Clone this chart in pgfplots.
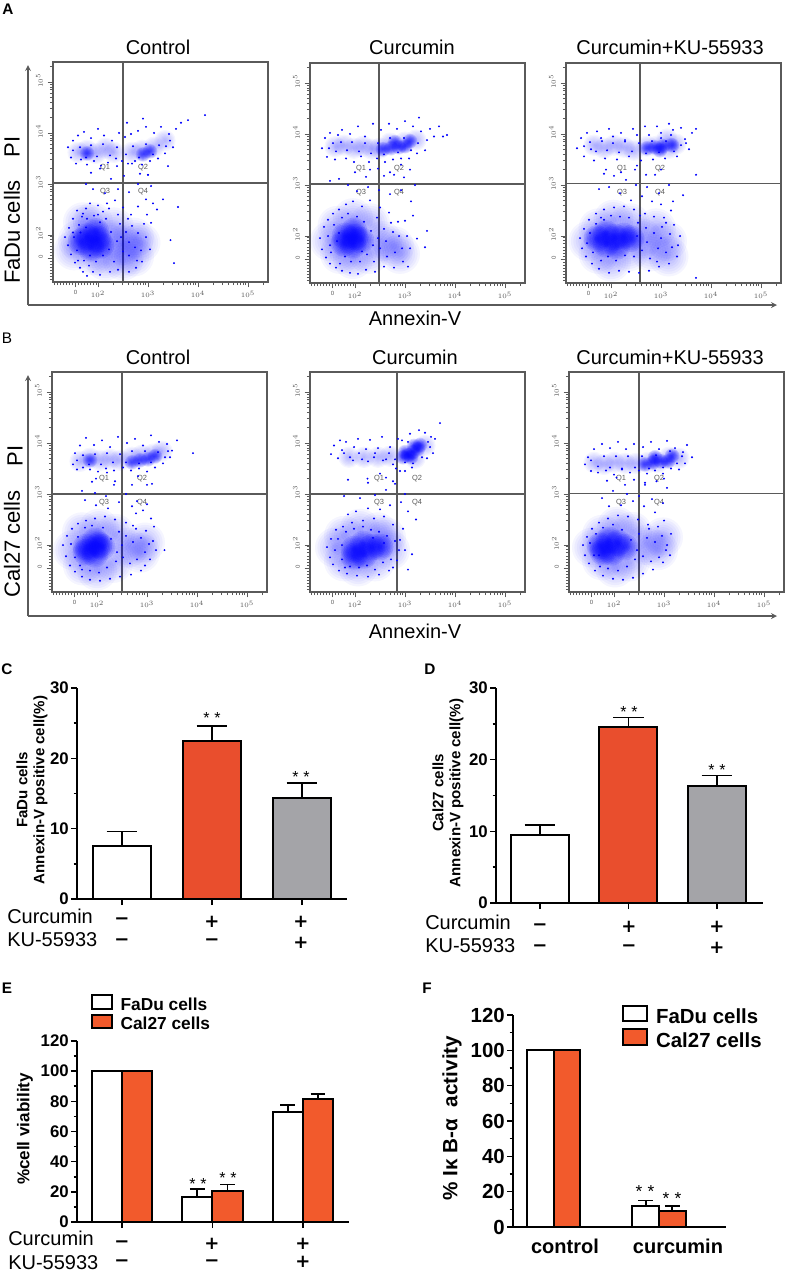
\documentclass[border=0pt]{standalone}
\usepackage{pgfplots}
\pgfplotsset{compat=1.18}
\usepackage{fontspec}
\setmainfont{Liberation Sans}
\newfontfamily\signfont{DejaVu Sans}
\definecolor{barred}{RGB}{233,78,45}
\definecolor{barorange}{RGB}{242,90,44}
\definecolor{bargray}{RGB}{164,164,168}
\definecolor{boxgray}{RGB}{90,90,90}
\newcommand{\fs}[1]{\fontsize{#1}{#1}\selectfont}
\tikzset{qlab/.style={font=\fs{5.6},text=boxgray,inner sep=0pt}}
% soft-edged mark for the dense parts of the flow clouds
\pgfdeclareplotmark{soft}{%
  \pgfpathcircle{\pgfpointorigin}{\pgfplotmarksize}\pgfusepathqfill
  \pgfpathcircle{\pgfpointorigin}{.88\pgfplotmarksize}\pgfusepathqfill
  \pgfpathcircle{\pgfpointorigin}{.76\pgfplotmarksize}\pgfusepathqfill
  \pgfpathcircle{\pgfpointorigin}{.64\pgfplotmarksize}\pgfusepathqfill
  \pgfpathcircle{\pgfpointorigin}{.52\pgfplotmarksize}\pgfusepathqfill
  \pgfpathcircle{\pgfpointorigin}{.40\pgfplotmarksize}\pgfusepathqfill
  \pgfpathcircle{\pgfpointorigin}{.28\pgfplotmarksize}\pgfusepathqfill
  \pgfpathcircle{\pgfpointorigin}{.16\pgfplotmarksize}\pgfusepathqfill}
\pgfplotsset{
  flow/.style={scale only axis,width=161.25pt,height=165pt,anchor=north west,
    xmin=110,xmax=540,ymin=108,ymax=539,clip=true,
    axis line style={boxgray,line width=.8pt},tick align=outside,tick pos=left,
    every tick/.style={boxgray,line width=.35pt},
    major tick length=4pt,minor tick length=2.4pt,
    xtick={155,200,300,400,500},xticklabels={0,$10^2$,$10^3$,$10^4$,$10^5$},
    ytick={155,200,300,400,500},yticklabels={0,$10^2$,$10^3$,$10^4$,$10^5$},
    minor xtick={113,119,...,197,230,248,260,270,278,285,290,295,330,348,360,370,378,385,390,395,430,448,460,470,478,485,490,495,530},
    minor ytick={113,119,...,197,230,248,260,270,278,285,290,295,330,348,360,370,378,385,390,395,430,448,460,470,478,485,490,495,530},
    ticklabel style={font=\fs{4.5},text=boxgray},
    yticklabel style={rotate=90,anchor=south},
    xticklabel style={yshift=1pt},yticklabel style={xshift=1pt}},
  quad/.style={boxgray,line width=.8pt,forget plot},
  cell/.style={blue,only marks,mark=*,mark size=.5pt,mark options={draw=none,fill=blue},forget plot},
  halo/.style={blue,only marks,mark=soft,mark size=15pt,mark options={draw=none,fill=blue,fill opacity=.04},forget plot},
  core/.style={blue,only marks,mark=soft,mark size=10pt,mark options={draw=none,fill=blue,fill opacity=.13},forget plot},
  band/.style={blue,only marks,mark=soft,mark size=8pt,mark options={draw=none,fill=blue,fill opacity=.04},forget plot},
  bandc/.style={blue,only marks,mark=soft,mark size=5.5pt,mark options={draw=none,fill=blue,fill opacity=.13},forget plot},
  barax/.style={scale only axis,anchor=north west,ybar,ymin=0,
    axis x line*=bottom,axis y line*=left,
    x axis line style={-,line width=1.5pt},y axis line style={-,line width=1.5pt},
    tick align=outside,major tick length=4.5pt,minor tick length=2.6pt,
    every tick/.style={black,line width=1.2pt},
    /pgf/number format/assume math mode=true,
    xticklabels={},ticklabel style={font=\bfseries\fs{12.6}},
    yticklabel style={inner sep=1.5pt}},
  errs/.style={error bars/.cd,y dir=plus,y explicit,
    error bar style={line width=1.3pt,black},
    error mark options={rotate=90,mark size=#1,line width=1.3pt,black}},
  bx/.style={draw=black,line width=1.5pt,fill=#1},
  leg/.style={legend cell align=left,
    legend image code/.code={\path[draw=none,fill=none] (#1*1.5pt,0) -- (0,0);\draw[##1,line width=1.5pt] (0,-#1*.2pt) rectangle (#1*1.18pt,#1*.57pt);}},
}
% one flow panel: left, top (px), gate x, gate y, points
\newcommand{\flow}[5]{%
\begin{axis}[flow,at={(#1*.75pt,-#2*.75pt)}]
#5
\addplot[quad] coordinates {(#3,108) (#3,539)};
\addplot[quad] coordinates {(110,#4) (540,#4)};
\node[qlab,xshift=-13.5pt,yshift=11.2pt] at (axis cs:#3,#4) {Q1};
\node[qlab,xshift=15pt,yshift=11.2pt] at (axis cs:#3,#4) {Q2};
\node[qlab,xshift=-13.5pt,yshift=-6.7pt] at (axis cs:#3,#4) {Q3};
\node[qlab,xshift=15pt,yshift=-6.7pt] at (axis cs:#3,#4) {Q4};
\end{axis}}
\begin{document}
\begin{tikzpicture}
\useasboundingbox (0,0) rectangle (787*.75pt,-1272*.75pt);

% A, control
\flow{53}{62}{250}{302}{
\addplot[halo] coordinates {(160,190)(190,160)(190,225)(225,190)(232,215)(250,180)(272,195)(285,185)(152,170)(215,150)(250,150)(170,225)(272,158)};
\addplot[core] coordinates {(178,197)(196,207)(206,180)(186,174)(166,187)(200,192)};
\addplot[band] coordinates {(160,362)(178,366)(196,360)(215,370)(232,362)(268,362)(288,366)(312,372)(334,385)};
\addplot[bandc] coordinates {(178,360)(290,358)(304,364)};
\addplot[cell] coordinates {(134,196)(140,180)(142,214)(146,162)(150,232)(152,196)(154,146)(158,248)(162,220)(164,136)(168,236)(170,128)(176,252)(178,120)(182,140)(184,262)(190,128)(200,258)(204,122)(210,246)(218,262)(224,128)(234,268)(240,132)(250,254)(262,128)(266,240)(276,136)(280,256)(288,148)(298,240)(304,172)(306,224)(240,290)(262,284)(280,300)(296,270)(310,262)(214,282)(190,290)(176,300)(226,310)(252,316)(284,320)(306,296)(318,250)(330,270)(360,255)(352,145)(345,190)(204,330)(186,322)(238,335)(300,318)(268,340)
(140,372)(146,352)(150,385)(156,340)(160,395)(166,348)(172,402)(178,338)(186,390)(192,345)(200,408)(206,336)(212,395)(220,342)(228,385)(236,350)(242,400)(248,345)(254,392)(260,340)(266,398)(274,345)(280,404)(288,338)(296,412)(304,345)(312,400)(320,350)(326,412)(334,360)(342,398)(350,372)(356,408)(366,420)(380,425)(414,435)(340,335)(300,318)(258,420)(290,428)
(150,205)(158,170)(165,205)(172,150)(176,215)(184,160)(192,238)(196,148)(204,225)(210,160)(216,232)(222,172)(226,206)(232,148)(238,188)(244,222)(250,168)(256,206)(262,160)(268,218)(274,176)(280,204)(286,170)(292,222)(278,150)(260,232)(240,240)(222,252)(200,240)(178,232)(160,150)(170,242)(296,196)(262,186)(246,196)
(150,366)(164,372)(176,352)(186,376)(198,354)(210,378)(224,356)(238,372)(256,358)(270,374)(282,352)(296,378)(310,358)(322,376)(336,374)(344,385)};
}
% A, curcumin
\flow{310}{63}{248}{302}{
\addplot[halo] coordinates {(150,190)(165,220)(170,165)(196,155)(196,235)(228,165)(230,225)(255,190)(278,180)(290,165)};
\addplot[core] coordinates {(180,200)(198,210)(212,192)(196,182)(178,186)(200,198)};
\addplot[band] coordinates {(160,375)(178,378)(198,372)(216,376)(234,370)(250,372)(270,382)(300,384)(322,388)};
\addplot[bandc] coordinates {(256,370)(272,372)(288,374)(300,376)(280,384)(310,386)};
\addplot[cell] coordinates {(130,196)(134,174)(138,218)(142,158)(146,232)(150,146)(156,244)(162,138)(168,252)(174,132)(182,262)(190,128)(196,268)(206,126)(214,258)(222,134)(230,270)(240,130)(250,256)(258,140)(268,246)(278,138)(286,228)(296,150)(304,200)(310,176)(300,230)(316,240)(324,195)(312,268)(292,290)(270,282)(248,290)(226,296)(204,288)(186,300)(168,312)(150,308)(222,316)(258,318)(278,320)(298,315)(246,332)(320,300)(340,178)(344,210)(306,140)
(134,372)(140,392)(144,355)(150,402)(156,382)(160,350)(166,398)(174,408)(182,352)(190,400)(198,345)(206,415)(212,356)(220,395)(228,345)(236,420)(244,352)(252,408)(260,345)(268,420)(276,350)(284,410)(292,352)(300,425)(308,352)(316,415)(324,362)(332,405)(340,368)(350,410)(358,395)(368,415)(376,395)(384,398)(328,432)(292,340)(230,330)(270,325)(200,325)(310,330)
(146,200)(152,168)(158,222)(164,190)(170,146)(174,236)(180,160)(186,244)(192,150)(204,238)(210,150)(218,228)(224,164)(232,210)(238,150)(244,236)(250,176)(258,214)(264,160)(272,226)(280,168)(288,200)(276,208)(294,176)(262,190)(246,196)(236,182)(214,170)(150,182)(168,206)
(148,372)(162,366)(172,384)(184,368)(194,384)(208,366)(220,382)(232,362)(246,382)(258,360)(270,392)(286,364)(298,392)(312,368)(326,382)(344,388)};
}
% A, curcumin + KU
\flow{566}{63}{258}{303}{
\addplot[halo] coordinates {(155,190)(175,215)(175,165)(200,150)(205,232)(235,170)(238,225)(262,195)(280,170)(290,215)(312,190)(315,160)};
\addplot[core] coordinates {(172,195)(190,205)(208,198)(226,200)(190,184)(212,180)(240,195)};
\addplot[band] coordinates {(166,378)(186,372)(206,378)(226,374)(246,368)(272,376)(292,376)(312,390)(330,380)(316,372)};
\addplot[bandc] coordinates {(272,372)(288,374)(304,376)(322,378)(298,368)};
\addplot[cell] coordinates {(138,196)(142,176)(146,214)(150,160)(156,232)(162,146)(170,244)(176,136)(186,252)(196,128)(206,256)(216,132)(226,258)(236,130)(246,252)(256,128)(268,244)(276,132)(286,238)(296,140)(306,236)(316,146)(326,222)(334,182)(338,200)(332,160)(320,250)(300,262)(282,268)(262,278)(240,270)(218,284)(196,296)(176,292)(206,318)(230,310)(250,300)(272,296)(296,284)(316,300)(324,268)(344,280)(186,322)(288,320)(248,330)(370,118)
(132,372)(140,392)(146,356)(152,402)(160,370)(166,348)(172,405)(180,392)(188,352)(196,410)(204,395)(212,350)(220,402)(228,385)(236,356)(244,410)(252,398)(260,348)(268,415)(276,398)(284,350)(292,415)(300,402)(308,352)(316,420)(324,408)(332,356)(340,412)(348,390)(356,370)(362,402)(370,410)(300,330)(270,320)(220,325)(190,330)(370,320)(252,338)
(152,186)(158,206)(164,168)(170,224)(180,152)(186,232)(194,160)(200,240)(210,152)(218,238)(228,162)(236,236)(246,160)(254,226)(262,172)(270,216)(278,156)(286,206)(294,176)(302,218)(310,168)(318,204)(322,178)(300,196)(272,188)(252,200)(258,240)(292,150)(310,226)(180,236)
(146,376)(158,384)(170,366)(182,386)(192,368)(204,382)(216,364)(228,388)(242,366)(256,382)(270,362)(282,386)(296,364)(310,386)(326,366)(340,378)(350,382)(320,398)(300,392)};
}
% B, control
\flow{52}{372}{250}{300}{
\addplot[halo] coordinates {(152,190)(170,225)(172,160)(200,150)(204,232)(232,165)(236,222)(262,195)(286,185)(296,205)};
\addplot[core] coordinates {(178,196)(196,208)(210,196)(196,182)(178,186)(204,200)};
\addplot[band] coordinates {(166,364)(186,370)(206,366)(226,368)(246,366)(270,372)(290,376)(312,378)(330,384)};
\addplot[bandc] coordinates {(270,362)(286,366)(302,368)(316,374)(186,366)};
\addplot[cell] coordinates {(132,200)(138,178)(140,218)(146,160)(150,232)(156,148)(162,242)(170,138)(178,248)(186,132)(196,252)(206,130)(216,256)(226,134)(236,250)(246,138)(258,244)(268,142)(278,232)(288,150)(298,228)(306,172)(312,208)(314,236)(318,190)(308,252)(292,268)(270,276)(244,284)(222,272)(198,278)(176,288)(170,306)(196,302)(218,296)(258,300)(280,286)(300,280)(278,262)(234,318)(300,318)(190,324)(335,190)
(152,358)(156,380)(160,348)(166,395)(172,352)(178,410)(186,348)(194,396)(202,344)(210,405)(218,350)(226,392)(234,346)(242,412)(252,352)(260,400)(268,346)(276,408)(284,350)(292,395)(300,344)(308,415)(316,352)(324,402)(332,360)(340,398)(346,372)(350,385)(360,405)(392,380)(282,335)(236,325)(198,330)(310,320)(270,318)(220,342)
(148,202)(156,176)(162,216)(170,152)(176,234)(186,150)(190,238)(204,146)(212,234)(220,156)(228,212)(238,168)(244,226)(252,176)(258,218)(266,164)(272,206)(280,172)(288,214)(296,186)(304,202)(296,160)(272,238)(250,200)(240,186)(166,160)
(160,366)(172,376)(184,358)(196,378)(208,358)(220,380)(232,362)(246,378)(258,362)(270,384)(284,360)(296,384)(308,362)(322,382)(336,372)(342,384)};
}
% B, curcumin
\flow{310}{372}{284}{300}{
\addplot[halo] coordinates {(160,195)(178,218)(178,168)(206,158)(210,232)(240,168)(245,225)(270,190)(262,215)};
\addplot[core] coordinates {(198,192)(216,202)(234,196)(218,180)(198,178)(250,196)};
\addplot[band] coordinates {(188,372)(218,372)(246,372)(270,374)(340,395)(320,370)};
\addplot[bandc] coordinates {(296,372)(306,376)(316,382)(326,388)(312,372)(330,396)(300,382)(318,394)};
\addplot[cell] coordinates {(144,196)(150,176)(152,212)(156,162)(162,230)(168,150)(176,236)(184,144)(194,244)(204,140)(216,248)(226,138)(238,252)(248,142)(258,256)(268,150)(276,240)(284,170)(290,210)(296,232)(300,190)(306,152)(314,182)(322,250)(306,266)(292,284)(270,278)(250,270)(226,272)(202,266)(186,260)(178,296)(210,292)(240,298)(262,308)(280,320)(300,300)(262,332)(226,322)(186,328)
(152,378)(158,395)(166,370)(174,386)(182,402)(190,372)(198,392)(206,408)(214,368)(222,388)(230,406)(238,372)(246,390)(254,412)(262,368)(270,392)(276,358)(282,350)(286,408)(290,345)(344,370)(350,392)(356,380)(352,412)(340,420)(360,408)(370,439)(328,425)(310,418)(294,405)(300,345)(314,352)(250,340)(225,330)(276,325)(170,405)
(160,190)(166,212)(174,172)(182,226)(190,158)(198,232)(208,156)(216,236)(224,160)(232,230)(240,152)(248,226)(256,166)(264,218)(272,172)(280,208)(276,156)(288,190)(258,204)(236,214)(180,156)(174,200)
(178,380)(196,366)(208,380)(226,364)(240,380)(256,366)(268,380)(280,368)(300,362)(316,360)(334,372)(346,402)(306,402)};
}
% B, curcumin + KU
\flow{569}{372}{250}{301}{
\addplot[halo] coordinates {(156,195)(176,220)(176,170)(202,156)(206,236)(232,168)(236,226)(264,200)(288,190)(298,215)};
\addplot[core] coordinates {(172,198)(190,210)(208,204)(222,196)(196,186)(178,186)};
\addplot[band] coordinates {(160,362)(180,358)(200,362)(222,360)(244,360)(268,362)(288,362)(310,372)(330,370)};
\addplot[bandc] coordinates {(262,358)(278,362)(294,364)(308,364)(316,375)(282,372)};
\addplot[cell] coordinates {(138,200)(142,180)(146,216)(150,164)(156,232)(162,150)(170,244)(178,140)(188,252)(198,134)(208,258)(218,132)(228,256)(238,136)(248,250)(258,144)(268,240)(278,152)(288,236)(298,166)(306,200)(312,180)(314,222)(300,248)(282,264)(260,276)(238,286)(214,278)(190,276)(176,292)(198,306)(226,300)(250,296)(276,290)(298,282)(222,318)(262,322)(186,326)(306,312)
(142,358)(148,372)(154,345)(160,388)(168,342)(176,398)(184,346)(192,390)(200,338)(208,402)(216,348)(224,388)(232,342)(240,398)(250,346)(258,392)(266,340)(274,402)(282,346)(290,388)(298,340)(306,404)(314,350)(322,390)(330,348)(338,382)(342,360)(346,396)(356,372)(285,325)(240,328)(205,332)(300,330)(262,318)
(152,204)(160,180)(164,222)(172,158)(178,234)(188,154)(198,240)(208,150)(216,230)(226,158)(234,210)(242,172)(250,222)(258,178)(266,214)(274,168)(282,206)(290,176)(296,218)(304,190)(246,190)(270,232)(170,180)
(154,366)(168,354)(180,374)(192,352)(204,374)(216,350)(228,374)(242,352)(256,374)(270,350)(284,376)(298,352)(312,384)(326,360)(336,374)};
}

% C
\begin{axis}[barax,at={(77*.75pt,-688*.75pt)},width=202.5pt,height=158.25pt,
  xmin=.5,xmax=3.5,ymax=30,bar width=44pt,xtick={1,2,3},ytick={0,10,20,30},minor ytick={5,15,25}]
\addplot[bx=white,bar shift=0pt,errs=11.6pt] coordinates {(1,7.5) +- (0,2.1)};
\addplot[bx=barred,bar shift=0pt,errs=11.6pt] coordinates {(2,22.5) +- (0,2.1)};
\addplot[bx=bargray,bar shift=0pt,errs=11.6pt] coordinates {(3,14.3) +- (0,2.2)};
\end{axis}
% D
\begin{axis}[barax,at={(496*.75pt,-688*.75pt)},width=200.25pt,height=161.25pt,
  xmin=.503,xmax=3.52,ymax=30,bar width=43.5pt,xtick={1,2,3},ytick={0,10,20,30},minor ytick={5,15,25}]
\addplot[bx=white,bar shift=0pt,errs=11.6pt] coordinates {(1,9.5) +- (0,1.4)};
\addplot[bx=barred,bar shift=0pt,errs=11.6pt] coordinates {(2,24.5) +- (0,1.4)};
\addplot[bx=bargray,bar shift=0pt,errs=11.6pt] coordinates {(3,16.3) +- (0,1.5)};
\end{axis}
% E
\begin{axis}[barax,leg=13,at={(77*.75pt,-1041*.75pt)},width=204pt,height=135.75pt,
  xmin=.503,xmax=3.51,ymax=120,bar width=22.7pt,xtick={1,2,3},ytick={0,20,...,120},minor ytick={10,30,...,110},
  legend style={draw=none,fill=none,at={(axis description cs:.05,1.26)},anchor=north west,inner sep=0pt,
    font=\bfseries\fs{13},row sep=-1pt}]
\addplot[bx=white,bar shift=-11.35pt,errs=5.6pt] coordinates {(1,100) +- (0,0) (2,16.5) +- (0,5.2) (3,73) +- (0,4.5)};
\addplot[bx=barorange,bar shift=11.35pt,errs=5.6pt] coordinates {(1,100) +- (0,0) (2,20.5) +- (0,4.3) (3,81.5) +- (0,3.5)};
\legend{FaDu cells,Cal27 cells}
\end{axis}
% F
\begin{axis}[barax,leg=15.3,at={(513*.75pt,-1015*.75pt)},width=159.75pt,height=159pt,
  xmin=.616,xmax=2.635,ymax=120,bar width=20pt,xtick=\empty,ytick={0,20,...,120},minor ytick={10,30,...,110},
  ticklabel style={font=\bfseries\fs{15.3}},
  legend style={draw=none,fill=none,at={(axis description cs:.51,1.05)},anchor=north west,inner sep=0pt,
    font=\bfseries\fs{15.3},row sep=-.25pt}]
\addplot[bx=white,bar shift=-10pt,errs=5.6pt] coordinates {(1,100) +- (0,0) (2,12) +- (0,3)};
\addplot[bx=barorange,bar shift=10pt,errs=5.6pt] coordinates {(1,100) +- (0,0) (2,9) +- (0,3)};
\legend{FaDu cells,Cal27 cells}
\end{axis}

\begin{scope}[x=.75pt,y=-.75pt]
% panel letters
\foreach \l/\x/\y in {A/8/9,C/7/669,D/430/669,E/7/988,F/427/988}
  \node[font=\bfseries\fs{11.5},inner sep=0pt] at (\x,\y) {\l};
\node[font=\fs{11.5},inner sep=0pt] at (7,338) {B};
% titles
\foreach \t/\x/\y in {Control/158/47,Curcumin/412/47,Curcumin+KU-55933/670/47,Control/158/357,Curcumin/415/357,Curcumin+KU-55933/670/357}
  \node[font=\fs{15},inner sep=0pt] at (\x,\y) {\t};
% big gated axes
\draw[-stealth,boxgray,line width=1pt] (28,305) -- (28,65);
\draw[-stealth,boxgray,line width=1pt] (28,305) -- (777,305);
\draw[-stealth,boxgray,line width=1pt] (28,616) -- (28,375);
\draw[-stealth,boxgray,line width=1pt] (28,616) -- (777,616);
\node[font=\fs{15},inner sep=0pt] at (415,318) {Annexin-V};
\node[font=\fs{15},inner sep=0pt] at (415,631) {Annexin-V};
\node[font=\fs{16.5},rotate=90,inner sep=0pt] at (12,232) {FaDu cells};
\node[font=\fs{16.5},rotate=90,inner sep=0pt] at (12,147) {PI};
\node[font=\fs{16.5},rotate=90,inner sep=0pt] at (12,544) {Cal27 cells};
\node[font=\fs{16.5},rotate=90,inner sep=0pt] at (15,456) {PI};
% bar axis titles
\node[font=\bfseries\fs{11.3},rotate=90,align=center,inner sep=0pt] at (32,790) {FaDu cells\\[1.5pt]Annexin-V positive cell(\%)};
\node[font=\bfseries\fs{11.3},rotate=90,align=center,inner sep=0pt] at (448,793) {Cal27 cells\\[1.5pt]Annexin-V positive cell(\%)};
\node[font=\bfseries\fs{12.8},rotate=90,inner sep=0pt] at (25,1129) {\%cell viability};
\node[font=\bfseries\fs{15.5},rotate=90,inner sep=0pt] at (452,1118) {\% Iκ B-α\ \ activity};
\node[font=\bfseries\fs{15},inner sep=0pt] at (565,1246) {control};
\node[font=\bfseries\fs{15},inner sep=0pt] at (678,1246) {curcumin};
% treatment rows
\foreach \x/\y in {7/916,425/922,8/1238}
  \node[font=\fs{15},anchor=west,inner sep=0pt] at (\x,\y) {Curcumin};
\foreach \x/\y in {7/940,425/946,8/1263}
  \node[font=\fs{15},anchor=west,inner sep=0pt] at (\x,\y) {KU-55933};
% signs sit on their baseline; DejaVu's wide + and - keep the font small
\foreach \x/\y in {122/924,122/945,212/945,540/930,540/951,629/951,122/1247,122/1266,212/1266}
  \node[font=\signfont\bfseries\fs{13.5},anchor=base,inner sep=0pt] at (\x,\y) {−};
\foreach \x/\y in {212/927,301/927,301/948,629/932,717/932,717/953,212/1249,303/1249,303/1267}
  \node[font=\signfont\bfseries\fs{13.5},anchor=base,inner sep=0pt] at (\x,\y) {+};
% significance
\foreach \x/\y in {212/718,301/777,629/712,717/770,198/1184,228/1178}
  \node[font=\fs{12},inner sep=0pt] at (\x,\y) {*\hspace{3.5pt}*};
\foreach \x/\y in {645/1192,672/1199}
  \node[font=\fs{13},inner sep=0pt] at (\x,\y) {*\hspace{4pt}*};
\end{scope}
\end{tikzpicture}
\end{document}
